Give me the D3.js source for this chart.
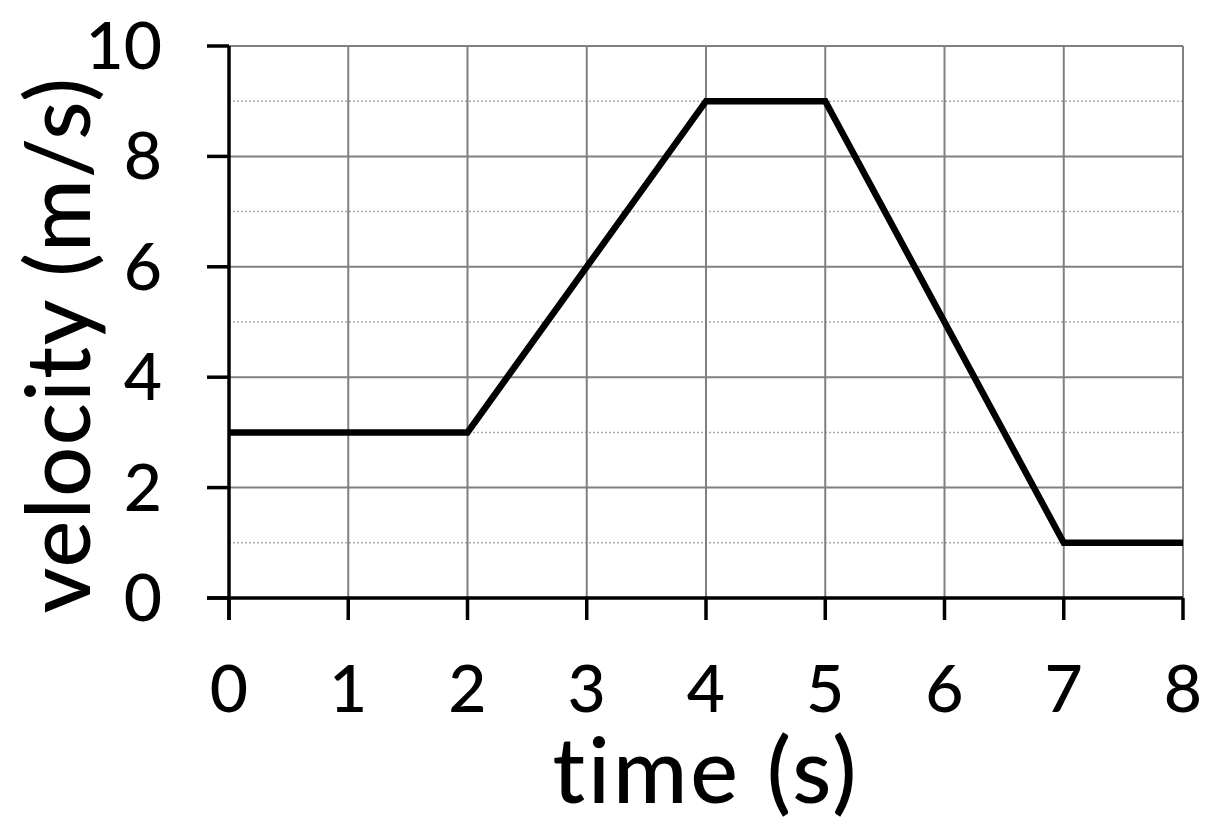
<!DOCTYPE html>
<html>
<head>
<meta charset="utf-8">
<script src="https://cdn.jsdelivr.net/npm/d3@7"></script>
<style>
  body { margin: 0; background: #fff; }
  svg text { font-family: Lato, "Open Sans", sans-serif; fill: #000; font-weight: 500; font-variant-ligatures: none; }
</style>
</head>
<body>
<svg id="chart" width="1220" height="830"></svg>
<script>
// velocity-time data
var times = [0, 2, 4, 5, 7, 8];
var velocities = [3, 3, 9, 9, 1, 1];
var xTicks = [0, 1, 2, 3, 4, 5, 6, 7, 8];
var yTicks = [0, 2, 4, 6, 8, 10];
var yMinorTicks = [1, 3, 5, 7, 9];

var svg = d3.select("#chart");
var plotLeft = 229, plotRight = 1183, plotTop = 46, plotBottom = 598;
var tickLen = 22;

var x = d3.scaleLinear().domain([0, 8]).range([plotLeft, plotRight]);
var y = d3.scaleLinear().domain([0, 10]).range([plotBottom, plotTop]);

// minor dotted grid
svg.append("g").selectAll("line")
  .data(yMinorTicks).enter().append("line")
  .attr("x1", plotLeft).attr("x2", plotRight)
  .attr("y1", function (d) { return y(d); })
  .attr("y2", function (d) { return y(d); })
  .attr("stroke", "#aaaaaa").attr("stroke-width", 1.5)
  .attr("stroke-dasharray", "2,2");

// major grid
svg.append("g").selectAll("line")
  .data(yTicks.filter(function (d) { return d > 0; })).enter().append("line")
  .attr("x1", plotLeft).attr("x2", plotRight)
  .attr("y1", function (d) { return y(d); })
  .attr("y2", function (d) { return y(d); })
  .attr("stroke", "#808080").attr("stroke-width", 2);

svg.append("g").selectAll("line")
  .data(xTicks.filter(function (d) { return d > 0; })).enter().append("line")
  .attr("y1", plotTop).attr("y2", plotBottom)
  .attr("x1", function (d) { return x(d); })
  .attr("x2", function (d) { return x(d); })
  .attr("stroke", "#808080").attr("stroke-width", 2);

// axes (drawn by hand, the lines run past the origin by a tick length)
svg.append("line")
  .attr("x1", plotLeft - tickLen).attr("x2", plotRight)
  .attr("y1", plotBottom).attr("y2", plotBottom)
  .attr("stroke", "#000").attr("stroke-width", 3.5);
svg.append("line")
  .attr("x1", plotLeft).attr("x2", plotLeft)
  .attr("y1", plotTop).attr("y2", plotBottom + tickLen)
  .attr("stroke", "#000").attr("stroke-width", 3.5);

// tick marks
svg.append("g").selectAll("line")
  .data(xTicks).enter().append("line")
  .attr("x1", function (d) { return x(d); })
  .attr("x2", function (d) { return x(d); })
  .attr("y1", plotBottom).attr("y2", plotBottom + tickLen)
  .attr("stroke", "#000").attr("stroke-width", 3.5);
svg.append("g").selectAll("line")
  .data(yTicks).enter().append("line")
  .attr("x1", plotLeft - tickLen).attr("x2", plotLeft)
  .attr("y1", function (d) { return y(d); })
  .attr("y2", function (d) { return y(d); })
  .attr("stroke", "#000").attr("stroke-width", 3.5);

// tick labels
svg.append("g").selectAll("text")
  .data(xTicks).enter().append("text")
  .attr("x", function (d) { return x(d); })
  .attr("y", 712)
  .attr("text-anchor", "middle")
  .style("font-size", "66px")
  .text(function (d) { return d; });

svg.append("g").selectAll("text")
  .data(yTicks).enter().append("text")
  .attr("x", 162)
  .attr("y", function (d) { return y(d) + 23; })
  .attr("text-anchor", "end")
  .style("font-size", "66px")
  .text(function (d) { return d; });

// the line
var line = d3.line()
  .x(function (d) { return x(d[0]); })
  .y(function (d) { return y(d[1]); });

svg.append("path")
  .datum(d3.zip(times, velocities))
  .attr("d", line)
  .attr("fill", "none")
  .attr("stroke", "#000")
  .attr("stroke-width", 6.5)
  .attr("stroke-linejoin", "miter");

// axis titles
svg.append("text")
  .attr("x", 706).attr("y", 803)
  .attr("text-anchor", "middle")
  .style("font-size", "90px")
  .style("letter-spacing", "3px")
  .text("time (s)");

svg.append("text")
  .attr("transform", "translate(90,345) rotate(-90)")
  .attr("text-anchor", "middle")
  .style("font-size", "88px")
  .style("letter-spacing", "1.5px")
  .text("velocity (m/s)");
</script>
</body>
</html>
